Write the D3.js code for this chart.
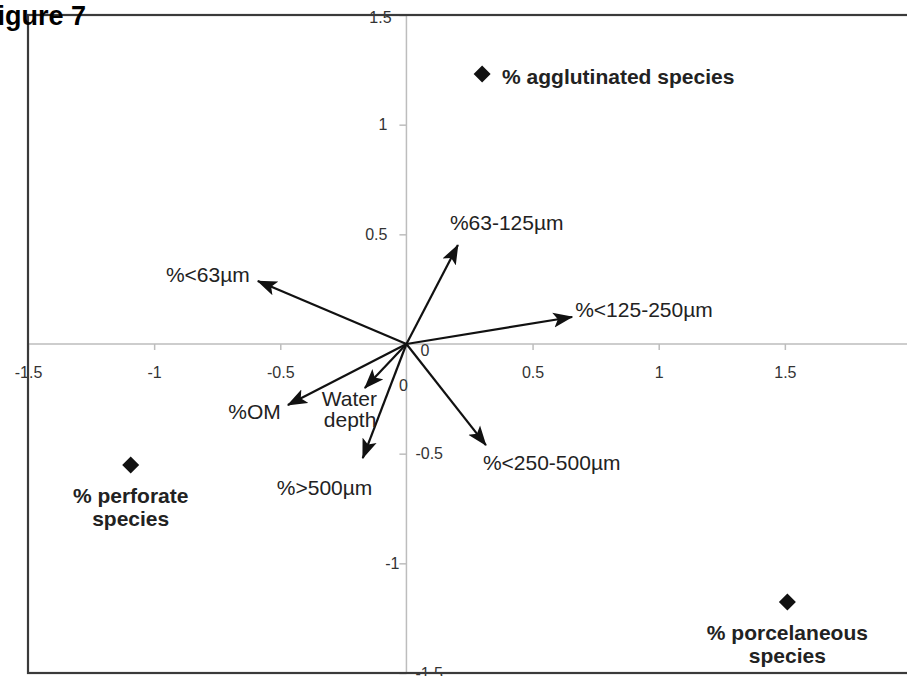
<!DOCTYPE html>
<html>
<head>
<meta charset="utf-8">
<script src="https://cdn.jsdelivr.net/npm/d3@7"></script>
<style>
  body { margin: 0; background: #fff; }
  svg { display: block; font-family: "Liberation Sans", Arial, sans-serif; }
</style>
</head>
<body>
<div id="chart"></div>
<script>
// variables (arrows)
let varNames = ['%63-125µm', '%<125-250µm', '%<63µm', '%OM', 'Water depth', '%>500µm', '%<250-500µm']
let varX = [0.204, 0.657, -0.589, -0.470, -0.165, -0.173, 0.315]
let varY = [0.451, 0.123, 0.287, -0.278, -0.201, -0.520, -0.461]

// species (diamonds)
let spNames = ['% agglutinated species', '% perforate species', '% porcelaneous species']
let spX = [0.300, -1.093, 1.510]
let spY = [1.231, -0.552, -1.176]

let xTicks = [-1.5, -1, -0.5, 0, 0.5, 1, 1.5, 2]
let yTicks = [1.5, 1, 0.5, 0, -0.5, -1, -1.5]

// label placement relative to arrow tip: [dx, dy, anchor]
let varLabelPos = {
    '%63-125µm': [-8, -15, 'start'],
    '%<125-250µm': [3, 0, 'start'],
    '%<63µm': [-8, 1, 'end'],
    '%OM': [-7, 14, 'end'],
    'Water depth': [-43, 18, 'start'],
    '%>500µm': [-86, 37, 'start'],
    '%<250-500µm': [-3, 25, 'start']
}

var width = 907, height = 676;
var svg = d3.select('#chart').append('svg')
    .attr('width', width)
    .attr('height', height)

var x = d3.scaleLinear().domain([-1.5, 2]).range([28, 911])
var y = d3.scaleLinear().domain([-1.5, 1.5]).range([673, 15])

// arrow head
svg.append('defs').append('marker')
    .attr('id', 'head')
    .attr('markerUnits', 'userSpaceOnUse')
    .attr('viewBox', '0 -8 20 16')
    .attr('refX', 19)
    .attr('refY', 0)
    .attr('markerWidth', 20)
    .attr('markerHeight', 16)
    .attr('orient', 'auto')
    .append('path')
    .attr('d', 'M0,-7.5L20,0L0,7.5L4.5,0Z')
    .attr('fill', '#111')

// zero lines
svg.append('line')
    .attr('x1', x(-1.5)).attr('x2', x(2))
    .attr('y1', y(0)).attr('y2', y(0))
    .attr('stroke', '#bdbdbd').attr('stroke-width', 1.5)
svg.append('line')
    .attr('x1', x(0)).attr('x2', x(0))
    .attr('y1', y(1.5)).attr('y2', y(-1.5))
    .attr('stroke', '#bdbdbd').attr('stroke-width', 1.5)

// x axis
var xAxis = svg.append('g')
    .attr('transform', 'translate(0,' + y(0) + ')')
    .call(d3.axisBottom(x).tickValues(xTicks).tickSize(6).tickPadding(17)
        .tickFormat(d => String(d)))
xAxis.select('.domain').remove()
xAxis.selectAll('line').attr('stroke', '#bdbdbd').attr('stroke-width', 1.5)
xAxis.selectAll('text')
    .attr('font-size', 16)
    .attr('font-family', '"Liberation Sans", Arial, sans-serif')
    .attr('fill', '#333')
xAxis.selectAll('.tick').filter(d => d === 0).select('text')
    .attr('x', 18).attr('y', 0).attr('dy', '0.75em')
xAxis.selectAll('.tick').filter(d => d === 0).select('line').remove()

// y axis
var yAxis = svg.append('g')
    .attr('transform', 'translate(' + x(0) + ',0)')
    .call(d3.axisLeft(y).tickValues(yTicks).tickSize(7).tickPadding(12)
        .tickFormat(d => String(d)))
yAxis.select('.domain').remove()
yAxis.selectAll('line').attr('stroke', '#bdbdbd').attr('stroke-width', 1.5)
yAxis.selectAll('text')
    .attr('font-size', 16)
    .attr('font-family', '"Liberation Sans", Arial, sans-serif')
    .attr('fill', '#333')
// labels the original moved around
yAxis.selectAll('.tick').filter(d => d === 0).select('line').remove()
yAxis.selectAll('.tick').filter(d => d === 0).select('text')
    .attr('x', -3).attr('y', 41).attr('text-anchor', 'middle')
yAxis.selectAll('.tick').filter(d => d === 1.5).select('text')
    .attr('x', -26).attr('y', 2).attr('text-anchor', 'middle')
yAxis.selectAll('.tick').filter(d => d === -1.5).select('text')
    .attr('x', 9).attr('y', 0).attr('dy', '0.35em').attr('text-anchor', 'start')
yAxis.selectAll('.tick').filter(d => d === -0.5).select('text')
    .attr('x', 9).attr('text-anchor', 'start')
yAxis.selectAll('.tick').filter(d => d === -1).select('text')
    .attr('x', -7)

// frame
svg.append('rect')
    .attr('x', x(-1.5)).attr('y', y(1.5))
    .attr('width', x(2) - x(-1.5)).attr('height', y(-1.5) - y(1.5))
    .attr('fill', 'none')
    .attr('stroke', '#3a3a3a')
    .attr('stroke-width', 2.2)

// arrows
var vars = varNames.map((d, i) => ({ name: d, x: varX[i], y: varY[i] }))
svg.append('g').selectAll('line')
    .data(vars)
    .enter()
    .append('line')
    .attr('x1', x(0)).attr('y1', y(0))
    .attr('x2', d => x(d.x)).attr('y2', d => y(d.y))
    .attr('stroke', '#111')
    .attr('stroke-width', 2.2)
    .attr('marker-end', 'url(#head)')

svg.append('g').selectAll('text')
    .data(vars)
    .enter()
    .append('text')
    .attr('x', d => x(d.x) + varLabelPos[d.name][0])
    .attr('y', d => y(d.y) + varLabelPos[d.name][1])
    .attr('text-anchor', d => varLabelPos[d.name][2])
    .attr('font-size', 21)
    .attr('fill', '#222')
    .each(function (d) {
        let words = d.name === 'Water depth' ? ['Water', 'depth'] : [d.name]
        let t = d3.select(this)
        words.forEach((w, i) => {
            t.append('tspan')
                .attr('x', x(d.x) + varLabelPos[d.name][0] + (i ? 2 : 0))
                .attr('dy', i ? 21 : 0)
                .text(w)
        })
    })

// species diamonds
var species = spNames.map((d, i) => ({ name: d, x: spX[i], y: spY[i] }))
svg.append('g').selectAll('path')
    .data(species)
    .enter()
    .append('path')
    .attr('d', d3.symbol().type(d3.symbolSquare).size(145))
    .attr('transform', d => 'translate(' + x(d.x) + ',' + y(d.y) + ') rotate(45)')
    .attr('fill', '#111')

svg.append('g').selectAll('text')
    .data(species)
    .enter()
    .append('text')
    .attr('font-size', 21)
    .attr('font-weight', 'bold')
    .attr('fill', '#222')
    .each(function (d, i) {
        let t = d3.select(this)
        if (i === 0) {
            t.attr('x', x(d.x) + 20).attr('y', y(d.y) + 10).text(d.name)
        } else {
            let parts = d.name.split(' ')
            t.attr('text-anchor', 'middle')
            t.append('tspan').attr('x', x(d.x)).attr('y', y(d.y) + 38).text(parts[0] + ' ' + parts[1])
            t.append('tspan').attr('x', x(d.x)).attr('dy', 23).text(parts[2])
        }
    })

// figure title, partly cut off like the original
svg.append('text')
    .attr('x', 86)
    .attr('y', 25)
    .attr('text-anchor', 'end')
    .attr('font-size', 27)
    .attr('font-weight', 'bold')
    .attr('fill', '#000')
    .text('Figure 7')
</script>
</body>
</html>
